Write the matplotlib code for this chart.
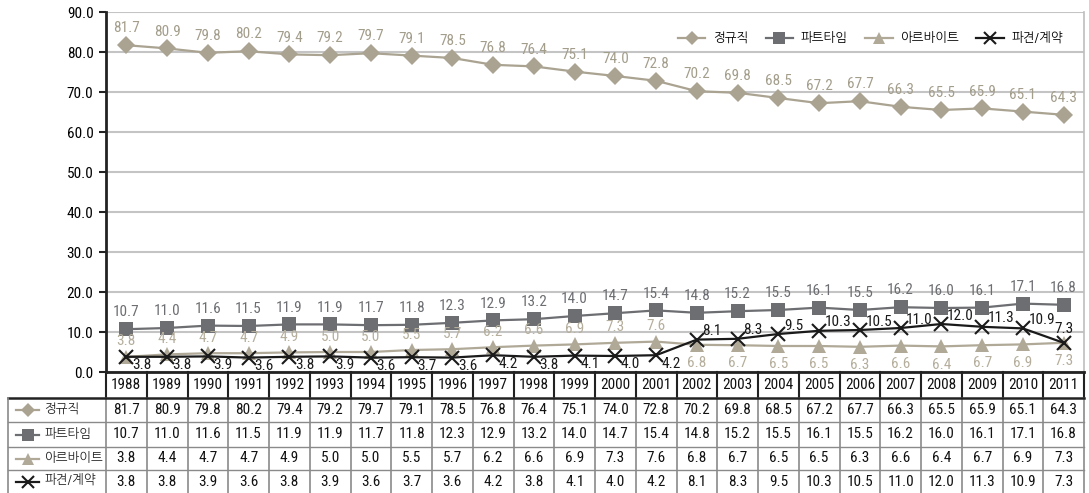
import matplotlib.pyplot as plt
import matplotlib.transforms as mtransforms
import numpy as np

plt.rcParams['font.family'] = ['Roboto Condensed', 'NanumGothic', 'DejaVu Sans']

years = list(range(1988, 2012))
regular = [81.7, 80.9, 79.8, 80.2, 79.4, 79.2, 79.7, 79.1, 78.5, 76.8, 76.4, 75.1,
           74.0, 72.8, 70.2, 69.8, 68.5, 67.2, 67.7, 66.3, 65.5, 65.9, 65.1, 64.3]
part_time = [10.7, 11.0, 11.6, 11.5, 11.9, 11.9, 11.7, 11.8, 12.3, 12.9, 13.2, 14.0,
             14.7, 15.4, 14.8, 15.2, 15.5, 16.1, 15.5, 16.2, 16.0, 16.1, 17.1, 16.8]
arbeit = [3.8, 4.4, 4.7, 4.7, 4.9, 5.0, 5.0, 5.5, 5.7, 6.2, 6.6, 6.9,
          7.3, 7.6, 6.8, 6.7, 6.5, 6.5, 6.3, 6.6, 6.4, 6.7, 6.9, 7.3]
dispatch = [3.8, 3.8, 3.9, 3.6, 3.8, 3.9, 3.6, 3.7, 3.6, 4.2, 3.8, 4.1,
            4.0, 4.2, 8.1, 8.3, 9.5, 10.3, 10.5, 11.0, 12.0, 11.3, 10.9, 7.3]
names = ['정규직', '파트타임', '아르바이트', '파견/계약']

c_reg = '#aaa391'
c_part = '#6d6e72'
c_arb = '#b0a998'
c_dis = '#1a1a1a'
fs = 11
fs_kr = 9

fig = plt.figure(figsize=(10.89, 4.93), dpi=100)
W, H = 1089, 493
ax = fig.add_axes([106 / W, 1 - 372 / H, (1084 - 106) / W, (372 - 12) / H])

x = np.arange(len(years))
styles = [
    (regular, c_reg, 'D', 9),
    (part_time, c_part, 's', 10),
    (arbeit, c_arb, '^', 10),
    (dispatch, c_dis, 'x', 10),
]
for (vals, col, mk, ms), name in zip(styles, names):
    kw = dict(markeredgewidth=1.5) if mk == 'x' else dict(markeredgewidth=0)
    ax.plot(x, vals, color=col, marker=mk, markersize=ms, lw=1.6, label=name,
            zorder=3, **kw)

# data labels
for i in x:
    ax.annotate(f'{regular[i]:.1f}', (i, regular[i]), xytext=(0, 7),
                textcoords='offset points', ha='center', va='bottom',
                color='#a39d8b', fontsize=fs)
    ax.annotate(f'{part_time[i]:.1f}', (i, part_time[i]), xytext=(0, 7),
                textcoords='offset points', ha='center', va='bottom',
                color=c_part, fontsize=fs)
    if years[i] <= 2001:
        ax.annotate(f'{arbeit[i]:.1f}', (i, arbeit[i]), xytext=(0, 6),
                    textcoords='offset points', ha='center', va='bottom',
                    color='#b5ae9c', fontsize=fs)
    else:
        ax.annotate(f'{arbeit[i]:.1f}', (i, arbeit[i]), xytext=(0, -8),
                    textcoords='offset points', ha='center', va='top',
                    color='#b5ae9c', fontsize=fs)
    if years[i] <= 2001:
        ax.annotate(f'{dispatch[i]:.1f}', (i, dispatch[i]), xytext=(4, -1),
                    textcoords='offset points', ha='left', va='top',
                    color=c_dis, fontsize=fs)
    elif years[i] == 2011:
        ax.annotate(f'{dispatch[i]:.1f}', (i, dispatch[i]), xytext=(0, 5),
                    textcoords='offset points', ha='center', va='bottom',
                    color=c_dis, fontsize=fs)
    else:
        ax.annotate(f'{dispatch[i]:.1f}', (i, dispatch[i]), xytext=(4, 1),
                    textcoords='offset points', ha='left', va='bottom',
                    color=c_dis, fontsize=fs)

ax.set_xlim(-0.5, len(years) - 0.5)
ax.set_ylim(0, 90)
ax.set_yticks(np.arange(0, 91, 10))
ax.set_yticklabels([f'{v:.1f}' for v in np.arange(0, 91, 10)], fontsize=fs)
ax.tick_params(axis='y', length=5, width=1.5, color='#222222', pad=4)
ax.set_xticks([])
ax.grid(axis='y', color='#c4c4c4', lw=1.5, zorder=0)
ax.spines['top'].set_visible(False)
ax.spines['right'].set_color('#bdbdbd')
ax.spines['right'].set_linewidth(1.2)
ax.spines['left'].set_linewidth(2)
ax.spines['left'].set_color('#222222')
ax.spines['bottom'].set_linewidth(2)
ax.spines['bottom'].set_color('#222222')

ax.legend(loc='upper right', ncol=4, frameon=False, fontsize=fs_kr,
          handlelength=2.2, columnspacing=1.4, handletextpad=0.6,
          markerscale=0.8, bbox_to_anchor=(0.99, 0.975))

# table under the chart
trans = mtransforms.blended_transform_factory(ax.transData, fig.transFigure)
row_y = [372, 398, 422, 447, 470, 493]
fy = [1 - v / H for v in row_y]
left = 8 / W

# header row
for i in range(len(years) + 1):
    ax.plot([i - 0.5, i - 0.5], [fy[0], fy[1]], transform=trans, color='#222222',
            lw=1.5, clip_on=False)
for i, yr in enumerate(years):
    ax.text(i, (fy[0] + fy[1]) / 2, str(yr), transform=trans, ha='center',
            va='center', fontsize=fs, color='#111111')
fig.add_artist(plt.Line2D([left, 1084 / W], [fy[1], fy[1]], color='#222222', lw=1.8))

# data rows
rows = [regular, part_time, arbeit, dispatch]
for r in range(1, 4):
    fig.add_artist(plt.Line2D([left, 1084 / W], [fy[r + 1], fy[r + 1]],
                              color='#8a8a8a', lw=1))
for i in range(len(years) + 1):
    ax.plot([i - 0.5, i - 0.5], [fy[1], 0], transform=trans, color='#8a8a8a',
            lw=1.2, clip_on=False)
fig.add_artist(plt.Line2D([left, left], [fy[1], 0], color='#8a8a8a', lw=1.2))

for r, (vals, (v, col, mk, ms), name) in enumerate(zip(rows, styles, names)):
    yc = (fy[r + 1] + fy[r + 2]) / 2
    for i in range(len(years)):
        ax.text(i, yc, f'{vals[i]:.1f}', transform=trans, ha='center', va='center',
                fontsize=fs, color='#111111')
    mkw = dict(markeredgewidth=1.5) if mk == 'x' else dict(markeredgewidth=0)
    fig.add_artist(plt.Line2D([16 / W, 39 / W], [yc, yc], color=col, lw=1.6))
    fig.add_artist(plt.Line2D([27.5 / W], [yc], color=col, marker=mk,
                              markersize=ms - 2, **mkw))
    fig.text(44 / W, yc, name, ha='left', va='center', fontsize=fs_kr,
             color='#222222')

fig.savefig('out.png', dpi=100)
